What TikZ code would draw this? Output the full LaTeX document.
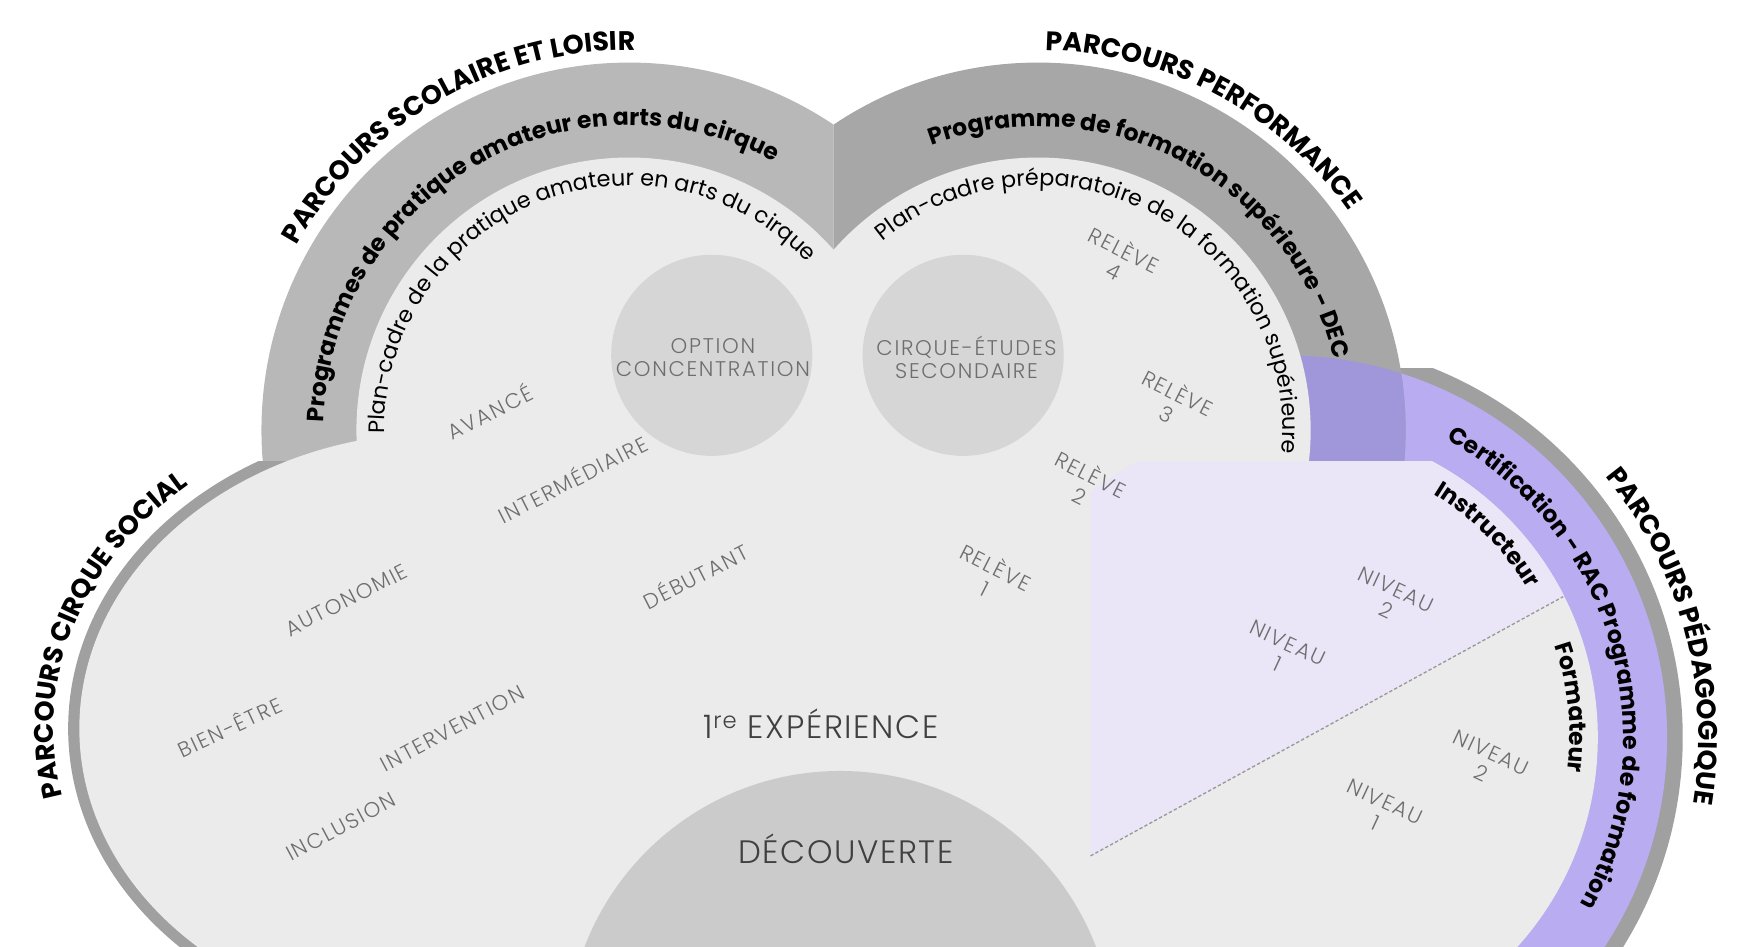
\documentclass[tikz,border=0pt]{standalone}
\usepackage{fontspec}
\setmainfont{Poppins}
\newfontfamily\lightfont{Poppins Light}[LetterSpace=8]
\newfontfamily\grandfont{Poppins Light}[LetterSpace=5]
\usetikzlibrary{decorations.text}

\definecolor{fond}{HTML}{EBEBEB}
\definecolor{anneau}{HTML}{A0A0A0}
\definecolor{bandeS}{HTML}{B8B8B8}
\definecolor{bandeP}{HTML}{A7A7A7}
\definecolor{violetD}{RGB}{185,172,240}
\definecolor{violetfonce}{RGB}{160,150,218}
\definecolor{lavande}{RGB}{234,230,248}
\definecolor{cercle}{HTML}{D6D6D6}
\definecolor{cerclefonce}{HTML}{CBCBCB}
\definecolor{etiqgris}{HTML}{6E6E6E}

\newcommand\titrefmt{\bfseries\fontsize{24}{26}\selectfont}
\newcommand\bandefmt{\bfseries\fontsize{21}{23}\selectfont}
\newcommand\cadrefmt{\fontsize{20}{22}\selectfont}

\begin{document}
\begin{tikzpicture}[x=1pt,y=1pt,
    arctexte/.style={decorate,decoration={text along path,text align=center}},
    etiq/.style={font=\lightfont\fontsize{19}{21}\selectfont,text=etiqgris,align=center,inner sep=0pt},
    grand/.style={font=\grandfont\fontsize{29}{31}\selectfont,text=black!75,inner sep=0pt},
    tirets/.style={densely dashed,draw=black!40,line width=1.2}]
  \useasboundingbox (0,0) rectangle (1568,847);
  \clip (0,0) rectangle (1568,847);
  % centres des lobes
  \coordinate (cL) at (397,195);
  \coordinate (cS) at (563,462);
  \coordinate (cP) at (929,462);
  \coordinate (cD) at (1150,187);

  % bandes exterieures
  \begin{scope}
    \clip (0,0) rectangle (1568,517);
    \fill[anneau] (cD) circle (356);
    \fill[violetD] (cD) circle (342);
  \end{scope}
  \begin{scope}
    \clip (0,0) rectangle (746,847);
    \fill[bandeS] (cS) circle (329);
  \end{scope}
  \begin{scope}
    \clip (746,0) rectangle (1568,847);
    \fill[bandeP] (cP) circle (329);
    \clip (cP) circle (329);
    \fill[violetfonce] (cD) circle (342);
  \end{scope}
  \begin{scope}
    \clip (0,0) rectangle (1568,434);
    \fill[anneau] (cL) ellipse [x radius=336, y radius=275];
  \end{scope}

  % interieurs
  \fill[fond] (cL) ellipse [x radius=326, y radius=265];
  \fill[fond] (cS) circle (244);
  \fill[fond] (cP) circle (244);
  \fill[fond] (262,0) rectangle (1256,434);
  \begin{scope}
    \clip (0,0) rectangle (1568,434);
    \fill[fond] (cD) circle (280);
    \clip (976,81) -- (1599,423) -- (1599,434) -- (976,434) -- cycle;
    \fill[lavande] (cD) circle (280);
  \end{scope}
  \begin{scope}
    \clip (0,434) rectangle (1568,847);
    \fill[cercle] (637,529) circle (90);
    \fill[cercle] (862,529) circle (90);
  \end{scope}
  \fill[cerclefonce] (752,-88) circle (245);

  % Instructeur / Formateur
  \coordinate (tiretA) at (976,81);
  \coordinate (tiretB) at (1399,313);
  \draw[tirets] (tiretA) -- (tiretB);

  % Parcours scolaire et loisir
  \path[arctexte,decoration={text={|\titrefmt|PARCOURS SCOLAIRE ET LOISIR}}]
    ([shift={(178:340)}]cS) arc[start angle=178,end angle=62,radius=340];
  \path[arctexte,decoration={text={|\bandefmt|Programmes de pratique amateur en arts du cirque}}]
    ([shift={(195:273)}]cS) arc[start angle=195,end angle=45,radius=273];
  \path[arctexte,decoration={text={|\cadrefmt|Plan-cadre de la pratique amateur en arts du cirque}}]
    ([shift={(205:219)}]cS) arc[start angle=205,end angle=19,radius=219];

  % Parcours performance
  \path[arctexte,decoration={text={|\titrefmt|PARCOURS PERFORMANCE}}]
    ([shift={(120:340)}]cP) arc[start angle=120,end angle=4,radius=340];
  \path[arctexte,decoration={text={|\bandefmt|Programme de formation supérieure - DEC}}]
    ([shift={(137:272)}]cP) arc[start angle=137,end angle=-13,radius=272];
  \path[arctexte,decoration={text={|\cadrefmt|Plan-cadre préparatoire de la formation supérieure}}]
    ([shift={(153:219)}]cP) arc[start angle=153,end angle=-29,radius=219];

  % Parcours pedagogique
  \path[arctexte,decoration={text={|\titrefmt|PARCOURS PÉDAGOGIQUE}}]
    ([shift={(62:370)}]cD) arc[start angle=62,end angle=-32,radius=370];
  \path[arctexte,decoration={text={|\bandefmt|Certification - RAC Programme de formation}}]
    ([shift={(72:303)}]cD) arc[start angle=72,end angle=-40,radius=303];
  \path[arctexte,decoration={text={|\bandefmt|Instructeur}}]
    ([shift={(75:255)}]cD) arc[start angle=75,end angle=15,radius=255];
  \path[arctexte,decoration={text={|\bandefmt|Formateur}}]
    ([shift={(30:255)}]cD) arc[start angle=30,end angle=-18,radius=255];

  % Parcours cirque social
  \path[arctexte,decoration={text={|\titrefmt|PARCOURS CIRQUE SOCIAL}}]
    ([shift={(202:349 and 288)}]cL) arc[start angle=202,end angle=122,x radius=349,y radius=288];

  % etiquettes
  \node[etiq,rotate=27] (avance) at (438,479) {AVANCÉ};
  \node[etiq,rotate=27] (intermediaire) at (512,419) {INTERMÉDIAIRE};
  \node[etiq,rotate=27] (debutant) at (622,332) {DÉBUTANT};
  \node[etiq,rotate=27] (autonomie) at (310,310) {AUTONOMIE};
  \node[etiq,rotate=25] (bienetre) at (205,197) {BIEN-ÊTRE};
  \node[etiq,rotate=28] (intervention) at (405,195) {INTERVENTION};
  \node[etiq,rotate=28] (inclusion) at (305,107) {INCLUSION};
  \node[etiq] (option) at (638,527) {OPTION\\CONCENTRATION};
  \node[etiq] (cirqueetudes) at (865,527) {CIRQUE-ÉTUDES\\SECONDAIRE};
  \node[etiq,rotate=-27] (releveiv) at (1002,615) {RELÈVE\\4};
  \node[etiq,rotate=-27] (releveiii) at (1050,487) {RELÈVE\\3};
  \node[etiq,rotate=-27] (releveii) at (972,414) {RELÈVE\\2};
  \node[etiq,rotate=-27] (relevei) at (887,331) {RELÈVE\\1};
  \node[etiq,rotate=-25] (instrii) at (1245,310) {NIVEAU\\2};
  \node[etiq,rotate=-25] (instri) at (1148,262) {NIVEAU\\1};
  \node[etiq,rotate=-25] (formii) at (1330,164) {NIVEAU\\2};
  \node[etiq,rotate=-25] (formi) at (1235,120) {NIVEAU\\1};
  \node[grand] (experience) at (735,199) {1\textsuperscript{re} EXPÉRIENCE};
  \node[grand] (decouverte) at (757,87) {DÉCOUVERTE};
\end{tikzpicture}
\end{document}
